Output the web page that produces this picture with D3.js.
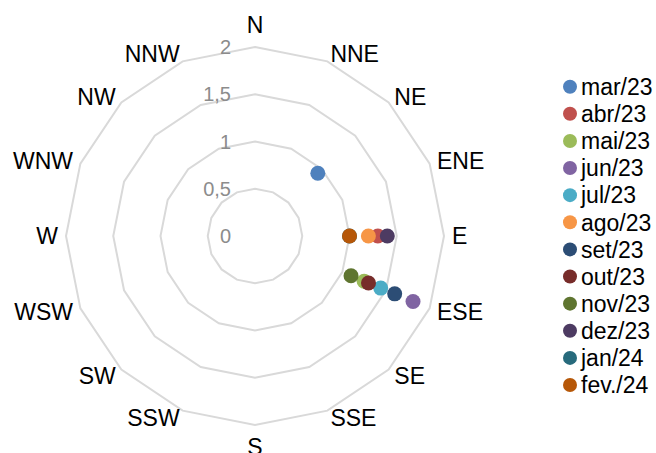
<!DOCTYPE html>
<html>
<head>
<meta charset="utf-8">
<script src="https://cdn.jsdelivr.net/npm/d3@7"></script>
<style>
  html, body { margin: 0; padding: 0; background: #fff; }
  svg { display: block; }
  text { font-family: "Liberation Sans", Arial, sans-serif; }
</style>
</head>
<body>
<div id="chart"></div>
<script>
// Wind direction compass points (clockwise from north)
const directions = ["N", "NNE", "NE", "ENE", "E", "ESE", "SE", "SSE",
                    "S", "SSW", "SW", "WSW", "W", "WNW", "NW", "NNW"];

// Monthly series: prevailing direction and mean speed
const months     = ["mar/23", "abr/23", "mai/23", "jun/23", "jul/23", "ago/23",
                    "set/23", "out/23", "nov/23", "dez/23", "jan/24", "fev./24"];
const monthDir   = ["NE", "E", "ESE", "ESE", "ESE", "E",
                    "ESE", "ESE", "ESE", "E", "E", "E"];
const monthValue = [0.94, 1.3, 1.25, 1.81, 1.44, 1.2,
                    1.6, 1.3, 1.1, 1.4, 1.0, 1.0];
const colors     = ["#4F81BD", "#C0504D", "#9BBB59", "#8064A2", "#4BACC6", "#F79646",
                    "#2C4D75", "#772C2A", "#5F7530", "#4D3B62", "#276A7C", "#B65708"];

// Radial axis ticks
const tickValues = [0, 0.5, 1, 1.5, 2];
const tickLabels = ["0", "0,5", "1", "1,5", "2"];

const W = 656, H = 453;
const cx = 255, cy = 236, R = 189;

const svg = d3.select("#chart").append("svg")
  .attr("width", W).attr("height", H);

const r = d3.scaleLinear().domain([0, 2]).range([0, R]);
const angle = d3.scalePoint().domain(directions).range([0, 2 * Math.PI]).padding(0);
// scalePoint over a closed circle: spread 16 points across 360 - 22.5 degrees
angle.range([0, 2 * Math.PI * (directions.length - 1) / directions.length]);

const px = (d, v) => cx + r(v) * Math.sin(angle(d));
const py = (d, v) => cy - r(v) * Math.cos(angle(d));

// Concentric polygon gridlines
const grid = svg.append("g");
tickValues.filter(v => v > 0).forEach(v => {
  const pts = directions.map(d => [px(d, v), py(d, v)]);
  grid.append("polygon")
    .attr("points", pts.map(p => p.join(",")).join(" "))
    .attr("fill", "none")
    .attr("stroke", "#d9d9d9")
    .attr("stroke-width", 2);
});

// Radial tick labels, right-aligned just left of the north axis
const tickFs = 20;
svg.append("g").selectAll("text")
  .data(tickValues)
  .join("text")
  .attr("x", cx - 24)
  .attr("y", v => cy - r(v) + tickFs * 0.358)
  .attr("text-anchor", "end")
  .attr("font-size", tickFs)
  .attr("fill", "#8c8c8c")
  .text((v, i) => tickLabels[i]);

// Category (direction) labels around the outside
const labFs = 23;
svg.append("g").selectAll("text")
  .data(directions)
  .join("text")
  .each(function (d) {
    const a = angle(d);
    const s = Math.sin(a), c = Math.cos(a);
    const vx = px(d, 2), vy = py(d, 2);
    const t = d3.select(this);
    let x, yc, anchor;
    if (Math.abs(s) < 1e-6) {
      x = vx; anchor = "middle";
      yc = vy - Math.sign(c) * 22;
    } else {
      x = vx + 8 * s;
      anchor = s > 0 ? "start" : "end";
      yc = vy - 8 * c;
    }
    t.attr("x", x).attr("y", yc + labFs * 0.358).attr("text-anchor", anchor);
  })
  .attr("font-size", labFs)
  .attr("fill", "#000")
  .text(d => d);

// Series markers
svg.append("g").selectAll("circle")
  .data(months.map((m, i) => ({ m, dir: monthDir[i], v: monthValue[i], c: colors[i] })))
  .join("circle")
  .attr("cx", d => px(d.dir, d.v))
  .attr("cy", d => py(d.dir, d.v))
  .attr("r", 7.5)
  .attr("fill", d => d.c);

// Legend
const legY = d3.scalePoint().domain(months).range([86.7, 385]);
const leg = svg.append("g").selectAll("g")
  .data(months)
  .join("g")
  .attr("transform", m => `translate(570,${legY(m)})`);
leg.append("circle").attr("r", 7).attr("fill", (m, i) => colors[i]);
leg.append("text")
  .attr("x", 11)
  .attr("y", labFs * 0.358)
  .attr("font-size", labFs)
  .attr("fill", "#000")
  .text(m => m);
</script>
</body>
</html>
